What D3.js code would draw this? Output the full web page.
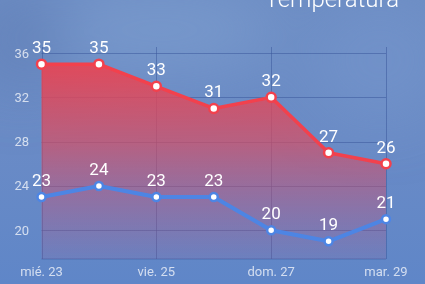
<!DOCTYPE html>
<html>
<head>
<meta charset="utf-8">
<script src="https://cdn.jsdelivr.net/npm/d3@7"></script>
<style>
  html, body { margin: 0; padding: 0; overflow: hidden; }
  svg { display: block; font-family: Roboto, "Noto Sans", sans-serif; }
</style>
</head>
<body>
<svg id="chart" width="425" height="284"></svg>
<script>
const days = ['mié. 23', 'jue. 24', 'vie. 25', 'sáb. 26', 'dom. 27', 'lun. 28', 'mar. 29'];
const tempMax = [35, 35, 33, 31, 32, 27, 26];
const tempMin = [23, 24, 23, 23, 20, 19, 21];
const yTicks = [20, 24, 28, 32, 36];
const xTickLabels = ['mié. 23', 'vie. 25', 'dom. 27', 'mar. 29'];
const title = 'Temperatura';

const W = 425, H = 284;
const plot = { left: 41.5, right: 386, top: 47, bottom: 259 };

const svg = d3.select('#chart');
const defs = svg.append('defs');

// background
const bg = defs.append('linearGradient').attr('id', 'bg')
  .attr('x1', 0).attr('y1', 0).attr('x2', 0).attr('y2', 1);
bg.append('stop').attr('offset', '0%').attr('stop-color', '#6d8dc4');
bg.append('stop').attr('offset', '50%').attr('stop-color', '#6a8bc6');
bg.append('stop').attr('offset', '100%').attr('stop-color', '#5f86c8');

const blur = defs.append('filter').attr('id', 'blur')
  .attr('x', '-50%').attr('y', '-50%').attr('width', '200%').attr('height', '200%');
blur.append('feGaussianBlur').attr('stdDeviation', 30);

const redFill = defs.append('linearGradient').attr('id', 'redFill')
  .attr('gradientUnits', 'userSpaceOnUse')
  .attr('x1', 0).attr('y1', plot.top).attr('x2', 0).attr('y2', plot.bottom);
redFill.append('stop').attr('offset', '0%').attr('stop-color', '#f0404c').attr('stop-opacity', 0.95);
redFill.append('stop').attr('offset', '45%').attr('stop-color', '#e04a5c').attr('stop-opacity', 0.65);
redFill.append('stop').attr('offset', '100%').attr('stop-color', '#c05080').attr('stop-opacity', 0.12);

svg.append('rect').attr('width', W).attr('height', H).attr('fill', 'url(#bg)');
const glow = svg.append('g').attr('filter', 'url(#blur)');
glow.append('ellipse').attr('cx', 160).attr('cy', 30).attr('rx', 120).attr('ry', 40)
  .attr('fill', '#7c9ccf').attr('opacity', 0.7);
glow.append('ellipse').attr('cx', 20).attr('cy', 40).attr('rx', 50).attr('ry', 50)
  .attr('fill', '#5f7fb5').attr('opacity', 0.6);
glow.append('ellipse').attr('cx', 380).attr('cy', 60).attr('rx', 70).attr('ry', 60)
  .attr('fill', '#7494cc').attr('opacity', 0.6);

// scales
const x = d3.scalePoint().domain(days).range([plot.left, plot.right]);
const y = d3.scaleLinear().domain([17.4, 36.55]).range([plot.bottom, plot.top]);

// grid
const grid = svg.append('g').attr('stroke', '#3d5a9c').attr('stroke-opacity', 0.55).attr('stroke-width', 1);
grid.selectAll('line.h').data(yTicks).join('line')
  .attr('class', 'h')
  .attr('x1', plot.left).attr('x2', plot.right)
  .attr('y1', d => Math.round(y(d)) + 0.5).attr('y2', d => Math.round(y(d)) + 0.5);
grid.append('line')
  .attr('x1', plot.left).attr('x2', plot.right)
  .attr('y1', plot.bottom).attr('y2', plot.bottom);
grid.selectAll('line.v').data(xTickLabels).join('line')
  .attr('class', 'v')
  .attr('x1', d => Math.round(x(d)) + 0.5).attr('x2', d => Math.round(x(d)) + 0.5)
  .attr('y1', plot.top).attr('y2', plot.bottom);

// y tick labels
svg.append('g').selectAll('text').data(yTicks).join('text')
  .attr('x', 29).attr('y', d => y(d))
  .attr('dy', '0.35em')
  .attr('text-anchor', 'end')
  .attr('font-size', 13)
  .attr('fill', 'rgba(255,255,255,0.72)')
  .text(d => d);

// x tick labels
svg.append('g').selectAll('text').data(xTickLabels).join('text')
  .attr('x', d => x(d)).attr('y', 271)
  .attr('dy', '0.35em')
  .attr('text-anchor', 'middle')
  .attr('font-size', 13)
  .attr('fill', 'rgba(255,255,255,0.72)')
  .text(d => d);

// red area
const area = d3.area()
  .x((d, i) => x(days[i]))
  .y0(plot.bottom)
  .y1(d => y(d));
svg.append('path').datum(tempMax)
  .attr('d', area)
  .attr('fill', 'url(#redFill)');

const line = d3.line().x((d, i) => x(days[i])).y(d => y(d));

function drawSeries(values, color, width, r) {
  const g = svg.append('g');
  g.append('path').datum(values)
    .attr('d', line)
    .attr('fill', 'none')
    .attr('stroke', color)
    .attr('stroke-width', width)
    .attr('stroke-linejoin', 'round');
  g.selectAll('circle').data(values).join('circle')
    .attr('cx', (d, i) => x(days[i]))
    .attr('cy', d => y(d))
    .attr('r', r)
    .attr('fill', '#fff')
    .attr('stroke', color)
    .attr('stroke-width', 2.5);
  g.selectAll('text').data(values).join('text')
    .attr('x', (d, i) => x(days[i]))
    .attr('y', d => y(d) - 11)
    .attr('text-anchor', 'middle')
    .attr('font-size', 17)
    .attr('fill', '#fff')
    .text(d => d);
}

drawSeries(tempMin, '#4d85e4', 4, 4);
drawSeries(tempMax, '#f2414d', 3.5, 4.5);

// title
svg.append('text')
  .attr('x', 399).attr('y', 7)
  .attr('text-anchor', 'end')
  .attr('font-size', 24)
  .attr('font-weight', 300)
  .attr('fill', '#fff')
  .text(title);
</script>
</body>
</html>
